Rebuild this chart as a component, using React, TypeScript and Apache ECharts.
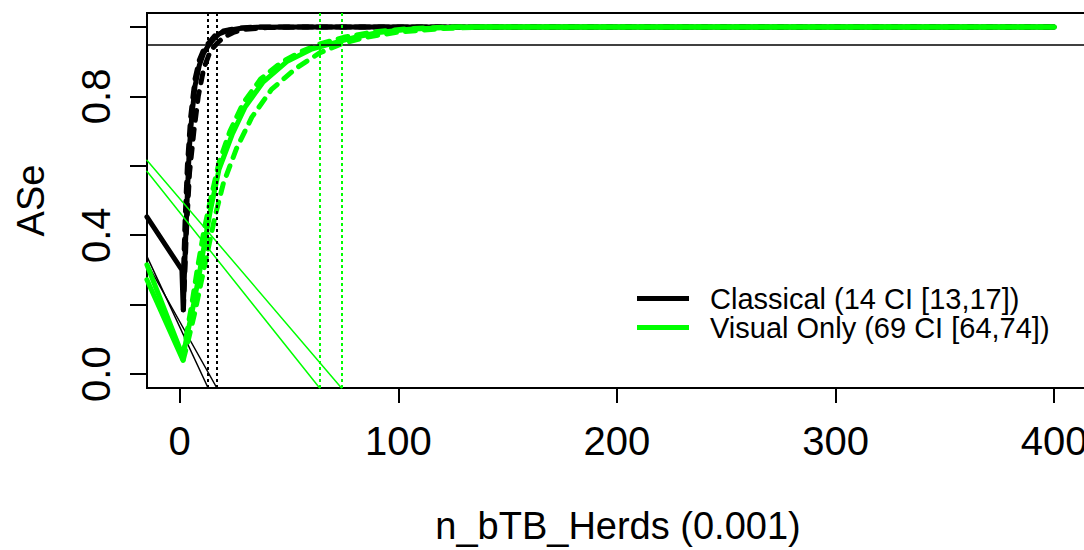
import React, { useEffect, useRef } from "react";
import * as echarts from "echarts";

const FONT = "'Liberation Sans', Arial, Helvetica, sans-serif";

const xTicks = [0, 100, 200, 300, 400];
const yTicks = [0, 0.2, 0.4, 0.6, 0.8, 1.0];
const yTickLabels = [0, 0.4, 0.8];

const legendClassical = "Classical (14 CI [13,17])";
const legendVisual = "Visual Only (69 CI [64,74])";

const ciClassical = [13, 17];
const ciVisual = [64, 74];
const targetASe = 0.95;

// Classical (black)
const classicalMedian = [
  [-15, 0.453], [1, 0.3], [1.6, 0.185], [2.5, 0.35], [3.5, 0.52], [4.4, 0.65], [5.5, 0.74],
  [7, 0.83], [9, 0.89], [11, 0.925], [13, 0.945], [14, 0.953], [16, 0.968], [18, 0.98],
  [22, 0.99], [28, 0.996], [35, 0.999], [50, 1], [400, 1],
];
const classicalUpper = [
  [1.5, 0.25], [2.5, 0.45], [3.5, 0.6], [5, 0.74], [7, 0.85], [9, 0.905], [11, 0.935],
  [13, 0.952], [16, 0.974], [20, 0.988], [26, 0.996], [35, 1], [400, 1],
];
const classicalLower = [
  [1.7, 0.185], [3, 0.4], [4.5, 0.58], [6.5, 0.7], [8.5, 0.8], [11, 0.88], [14, 0.93],
  [17, 0.952], [20, 0.97], [25, 0.985], [30, 0.993], [40, 0.998], [60, 1], [400, 1],
];
const classicalThinA = [[-15, 0.339], [13, -0.04]];
const classicalThinB = [[-15, 0.32], [17, -0.04]];

// Visual only (green)
const visualMedian = [
  [-15, 0.315], [1.5, 0.05], [3, 0.1], [6, 0.19], [9, 0.29], [12, 0.4], [14, 0.47],
  [18, 0.59], [24, 0.69], [30, 0.77], [38, 0.84], [49, 0.9], [60, 0.935], [69, 0.951],
  [80, 0.97], [91, 0.984], [105, 0.993], [128, 1], [400, 1],
];
const visualUpper = [
  [1.4, 0.05], [3, 0.11], [5.5, 0.2], [8, 0.3], [11, 0.41], [14, 0.5], [18, 0.61],
  [23, 0.7], [29, 0.78], [37, 0.85], [47, 0.9], [56, 0.93], [64, 0.951], [75, 0.97],
  [88, 0.985], [105, 0.995], [125, 1], [400, 1],
];
const visualLower = [
  [1.6, 0.04], [4, 0.1], [7, 0.18], [10, 0.27], [13, 0.36], [16, 0.45], [20, 0.55],
  [26, 0.65], [33, 0.74], [42, 0.82], [53, 0.88], [64, 0.925], [74, 0.951], [85, 0.97],
  [100, 0.985], [120, 0.995], [140, 1], [400, 1],
];
const visualPrefix = [[-15, 0.272], [1.5, 0.04]];
const visualThinA = [[-15, 0.616], [74, -0.04]];
const visualThinB = [[-15, 0.584], [64, -0.04]];

const BLACK = "#000000";
const GREEN = "#00ff00";

function lineSeries(name: string, data: number[][], color: string, width: number, type: any = "solid", extra: any = {}) {
  return {
    type: "line",
    name,
    data,
    showSymbol: false,
    symbol: "none",
    clip: true,
    silent: true,
    color,
    itemStyle: { color },
    lineStyle: { color, width, type, cap: "round", join: "round" },
    ...extra,
  };
}

export default function App() {
  const ref = useRef<HTMLDivElement>(null);
  useEffect(() => {
    if (!ref.current) return;
    const chart = echarts.init(ref.current, undefined, { renderer: "svg" });
    const dotted = [3, 3];
    chart.setOption({
      animation: false,
      backgroundColor: "#ffffff",
      textStyle: { fontFamily: FONT },
      grid: {
        left: 147,
        top: 13,
        width: 942,
        height: 375,
        show: true,
        borderColor: BLACK,
        borderWidth: 2,
        backgroundColor: "transparent",
      },
      xAxis: {
        type: "value",
        min: -14.96,
        max: 415.96,
        name: "n_bTB_Herds (0.001)",
        nameLocation: "middle",
        nameGap: 119,
        nameTextStyle: { fontSize: 38, color: BLACK, fontFamily: FONT },
        axisLine: { show: false, onZero: false },
        splitLine: { show: false },
        axisTick: {
          show: true,
          inside: false,
          customValues: xTicks,
          length: 15,
          lineStyle: { color: BLACK, width: 2 },
        },
        axisLabel: {
          customValues: xTicks,
          fontSize: 40,
          color: BLACK,
          margin: 33,
          fontFamily: FONT,
        },
      },
      yAxis: {
        type: "value",
        min: -0.04,
        max: 1.04,
        name: "ASe",
        nameLocation: "middle",
        nameGap: 97,
        nameRotate: 90,
        nameTextStyle: { fontSize: 38, color: BLACK, fontFamily: FONT },
        axisLine: { show: false, onZero: false },
        splitLine: { show: false },
        axisTick: {
          show: true,
          inside: false,
          customValues: yTicks,
          length: 17,
          lineStyle: { color: BLACK, width: 2 },
        },
        axisLabel: {
          customValues: yTickLabels,
          rotate: 90,
          fontSize: 40,
          color: BLACK,
          margin: 31,
          fontFamily: FONT,
          formatter: (v: number) => v.toFixed(1),
        },
      },
      legend: {
        data: [legendClassical, legendVisual],
        orient: "vertical",
        left: 637,
        top: 284,
        padding: 0,
        itemGap: 0,
        itemWidth: 52,
        itemHeight: 5,
        icon: "rect",
        selectedMode: false,
        textStyle: {
          fontSize: 29,
          color: BLACK,
          fontFamily: FONT,
          lineHeight: 29,
          padding: [0, 0, 0, 16],
        },
      },
      series: [
        lineSeries("Classical upper", classicalUpper, BLACK, 5, [10, 9]),
        lineSeries("Classical lower", classicalLower, BLACK, 5, [10, 9]),
        lineSeries(legendClassical, classicalMedian, BLACK, 5),
        lineSeries("Classical thin A", classicalThinA, BLACK, 1.5, "solid", {
          markLine: {
            silent: true,
            symbol: ["none", "none"],
            label: { show: false },
            lineStyle: { color: BLACK, width: 1.5, type: "solid" },
            data: [{ yAxis: targetASe }],
          },
        }),
        lineSeries("Classical thin B", classicalThinB, BLACK, 1.5, "solid", {
          markLine: {
            silent: true,
            symbol: ["none", "none"],
            label: { show: false },
            lineStyle: { color: BLACK, width: 2, type: dotted },
            data: ciClassical.map((v) => ({ xAxis: v })),
          },
        }),
        lineSeries("Visual upper", visualUpper, GREEN, 5, [10, 9]),
        lineSeries("Visual lower", visualLower, GREEN, 5, [10, 9]),
        lineSeries("Visual prefix", visualPrefix, GREEN, 5),
        lineSeries(legendVisual, visualMedian, GREEN, 5),
        lineSeries("Visual thin A", visualThinA, GREEN, 1.5),
        lineSeries("Visual thin B", visualThinB, GREEN, 1.5, "solid", {
          markLine: {
            silent: true,
            symbol: ["none", "none"],
            label: { show: false },
            lineStyle: { color: GREEN, width: 2, type: dotted },
            data: ciVisual.map((v) => ({ xAxis: v })),
          },
        }),
      ],
    });
    return () => chart.dispose();
  }, []);
  return (
    <div
      ref={ref}
      style={{ position: "fixed", left: 0, top: 0, width: 1100, height: 550, background: "#fff" }}
    />
  );
}
